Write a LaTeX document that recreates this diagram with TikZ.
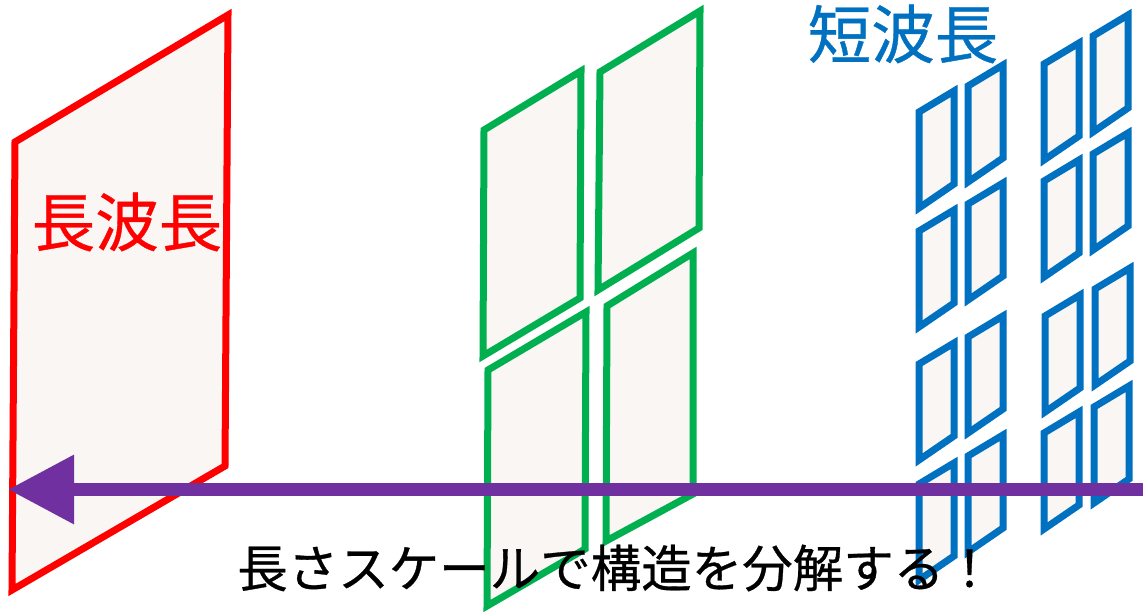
\documentclass[tikz,border=0pt]{standalone}
\usepackage{fontspec}
\newfontfamily\jp[FakeBold=0.6]{Noto Sans CJK JP}
\usetikzlibrary{arrows.meta}
\definecolor{panelfill}{HTML}{F9F6F3}
\definecolor{redline}{HTML}{FF0000}
\definecolor{greenline}{HTML}{00B050}
\definecolor{blueline}{HTML}{0070C0}
\definecolor{purplearrow}{HTML}{7030A0}
\tikzset{
  panel/.style={fill=panelfill, line width=7pt, line join=miter, miter limit=10},
  redpanel/.style={panel, draw=redline},
  greenpanel/.style={panel, draw=greenline},
  bluepanel/.style={panel, draw=blueline},
  biglabel/.style={inner sep=0pt, font=\jp\fontsize{63.5}{70}\selectfont},
  caption/.style={inner sep=0pt, font=\jp\fontsize{50.5}{56}\selectfont, text=black},
  scalearrow/.style={draw=purplearrow, line width=13pt, -{Triangle[length=66pt,width=66pt]}}
}
\newcommand{\bluecell}[2]{%
  \draw[bluepanel] (#1,#2) -- ++(35,-21) -- ++(0,93) -- (#1,#2+96) -- cycle;}
\begin{document}
\begin{tikzpicture}[x=1pt,y=-1pt]
\useasboundingbox (0,0) rectangle (1143,613);
% red panel (long wavelength)
\draw[redpanel] (15,142) -- (228,15) -- (225,466) -- (12,590) -- cycle;
% green panels
\draw[greenpanel] (484,130) -- (581,71) -- (580,298) -- (483,356) -- cycle;
\draw[greenpanel] (600,72) -- (700,11) -- (699,228) -- (598,290) -- cycle;
\draw[greenpanel] (488,370) -- (586,312) -- (585,549) -- (487,606) -- cycle;
\draw[greenpanel] (607,306) -- (693,253) -- (693,494) -- (606,541) -- cycle;
% blue panels, column 1
\bluecell{919}{112}\bluecell{968}{86}
\bluecell{919}{231}\bluecell{968}{204}
\bluecell{919}{364}\bluecell{968}{337}
\bluecell{919}{484}\bluecell{968}{456}
% blue panels, column 2
\bluecell{1044}{64}\bluecell{1093}{36}
\bluecell{1044}{181}\bluecell{1093}{154}
\bluecell{1045}{316}\bluecell{1095}{289}
\bluecell{1044}{433}\bluecell{1094}{407}
% labels
\node[biglabel, text=redline] (longlabel) at (127,222) {長波長};
\node[biglabel, text=blueline] (shortlabel) at (903,34) {短波長};
% arrow
\coordinate (arrowStart) at (1143,489.5);
\coordinate (arrowEnd) at (8,489.5);
\draw[scalearrow] (arrowStart) -- (arrowEnd);
% caption
\node[caption] (captiontext) at (616,568) {長さスケールで構造を分解する！};
\end{tikzpicture}
\end{document}
